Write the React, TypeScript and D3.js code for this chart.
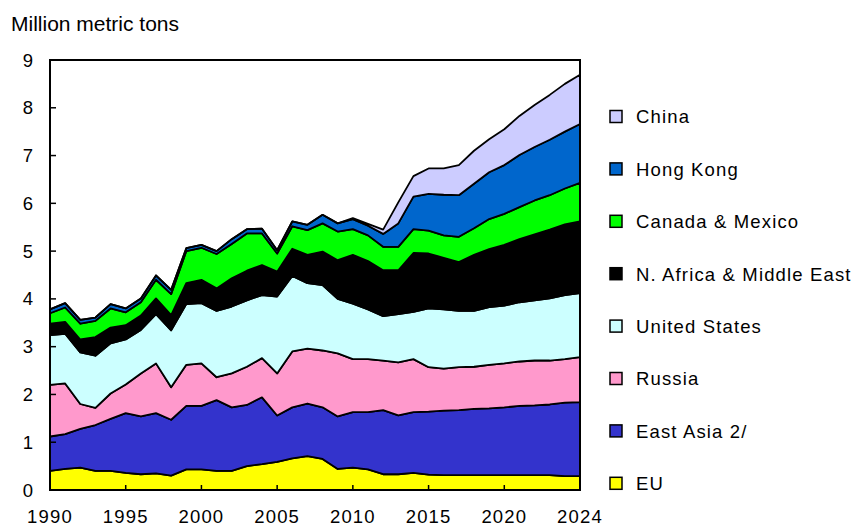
import React from "react";
import * as d3 from "d3";

const years = d3.range(1990, 2026);
const tickYears = [1990, 1995, 2000, 2005, 2010, 2015, 2020, 2025];
const tickLabels = ["1990", "1995", "2000", "2005", "2010", "2015", "2020", "2024"];
const yTicks = [0, 1, 2, 3, 4, 5, 6, 7, 8, 9];

const seriesNames = ["EU", "East Asia 2/", "Russia", "United States", "N. Africa & Middle East", "Canada & Mexico", "Hong Kong", "China"];
const seriesColors = ["#FFFF00", "#3333CC", "#FF99CC", "#CCFFFF", "#000000", "#00FF00", "#0066CC", "#CCCCFF"];

const eu = [0.40,0.44,0.47,0.40,0.40,0.36,0.33,0.35,0.30,0.43,0.43,0.40,0.40,0.50,0.54,0.59,0.66,0.71,0.65,0.44,0.47,0.43,0.33,0.33,0.36,0.32,0.31,0.31,0.31,0.31,0.31,0.31,0.31,0.31,0.29,0.29];
const eastAsia = [0.72,0.73,0.81,0.96,1.09,1.25,1.21,1.26,1.17,1.33,1.33,1.48,1.33,1.28,1.40,0.97,1.07,1.10,1.08,1.10,1.16,1.20,1.34,1.23,1.27,1.32,1.35,1.36,1.39,1.40,1.42,1.45,1.46,1.48,1.54,1.55];
const russia = [1.08,1.06,0.52,0.36,0.53,0.60,0.90,1.04,0.68,0.86,0.89,0.48,0.71,0.80,0.82,0.88,1.17,1.15,1.19,1.32,1.11,1.11,1.04,1.11,1.11,0.93,0.88,0.90,0.88,0.91,0.92,0.93,0.94,0.92,0.91,0.94];
const unitedStates = [1.04,1.04,1.08,1.09,1.05,0.94,0.91,1.03,1.19,1.27,1.26,1.39,1.40,1.39,1.32,1.61,1.58,1.37,1.37,1.14,1.16,1.04,0.93,1.01,0.99,1.23,1.24,1.18,1.17,1.21,1.21,1.24,1.26,1.30,1.34,1.34];
const nAfricaMiddleEast = [0.24,0.25,0.27,0.39,0.33,0.30,0.30,0.33,0.32,0.44,0.49,0.47,0.59,0.62,0.63,0.52,0.57,0.59,0.70,0.81,1.02,1.01,0.96,0.92,1.23,1.15,1.08,1.02,1.17,1.21,1.27,1.32,1.38,1.44,1.48,1.50];
const canadaMexico = [0.22,0.30,0.33,0.34,0.40,0.27,0.28,0.39,0.44,0.67,0.67,0.72,0.72,0.78,0.66,0.38,0.47,0.52,0.59,0.60,0.54,0.54,0.49,0.49,0.50,0.48,0.47,0.53,0.56,0.63,0.65,0.67,0.71,0.72,0.75,0.81];
const hongKong = [0.08,0.09,0.08,0.07,0.09,0.08,0.08,0.09,0.09,0.06,0.06,0.06,0.10,0.09,0.10,0.07,0.10,0.11,0.18,0.17,0.21,0.20,0.27,0.49,0.68,0.77,0.85,0.87,0.93,0.98,1.02,1.09,1.12,1.16,1.19,1.23];
const china = [0,0,0,0,0,0,0,0,0,0,0,0,0,0,0,0,0,0,0,0,0.02,0.04,0.09,0.44,0.43,0.53,0.55,0.63,0.69,0.69,0.75,0.82,0.88,0.94,1.00,1.03];

const seriesValues = [eu, eastAsia, russia, unitedStates, nAfricaMiddleEast, canadaMexico, hongKong, china];

const W = 855, H = 527;
const left = 50, right = 580, top = 60, bottom = 490;
const font = "Arial, 'Liberation Sans', sans-serif";
const fs = 18.5;
const ls = 1.15;

export default function App() {
  const x = d3.scaleLinear().domain([1990, 2025]).range([left, right]);
  const y = d3.scaleLinear().domain([0, 9]).range([bottom, top]);

  const table = years.map((yr, i) => {
    const row: any = { year: yr };
    seriesNames.forEach((n, k) => (row[n] = seriesValues[k][i]));
    return row;
  });
  const stacked = d3.stack().keys(seriesNames)(table);
  const area = d3
    .area<any>()
    .x((d) => x(d.data.year))
    .y0((d) => y(d[0]))
    .y1((d) => y(d[1]));

  const legendOrder = [...seriesNames.keys()].reverse();

  return (
    <svg width={W} height={H} style={{ position: "absolute", left: 0, top: 0, background: "#fff" }} fontFamily={font}>
      <text x={11} y={31} fontSize={21} fill="#000">Million metric tons</text>
      {stacked.map((s, k) => (
        <path key={k} d={area(s as any) || ""} fill={seriesColors[k]} stroke="#000" strokeWidth={1.8} strokeLinejoin="round" />
      ))}
      <rect x={left} y={top} width={right - left} height={bottom - top} fill="none" stroke="#000" strokeWidth={2} />
      {yTicks.map((t) => (
        <g key={t}>
          <line x1={left} x2={left + 6} y1={y(t)} y2={y(t)} stroke="#000" strokeWidth={1.5} />
          <text x={33} y={y(t) + 6.5} fontSize={fs} textAnchor="end" fill="#000">{t}</text>
        </g>
      ))}
      {tickYears.map((t, i) => (
        <g key={t}>
          {i > 0 && i < tickYears.length - 1 && (
            <line x1={x(t)} x2={x(t)} y1={bottom} y2={bottom - 5} stroke="#000" strokeWidth={1.5} />
          )}
          <text x={x(t)} y={523} fontSize={fs} textAnchor="middle" letterSpacing={ls} fill="#000">{tickLabels[i]}</text>
        </g>
      ))}
      {legendOrder.map((k, j) => {
        const cy = 116.5 + j * 52.4;
        return (
          <g key={k}>
            <rect x={610} y={cy - 6} width={12} height={12} fill={seriesColors[k]} stroke="#000" strokeWidth={1.5} />
            <text x={636} y={cy + 6.8} fontSize={fs} letterSpacing={ls} fill="#000">{seriesNames[k]}</text>
          </g>
        );
      })}
    </svg>
  );
}
